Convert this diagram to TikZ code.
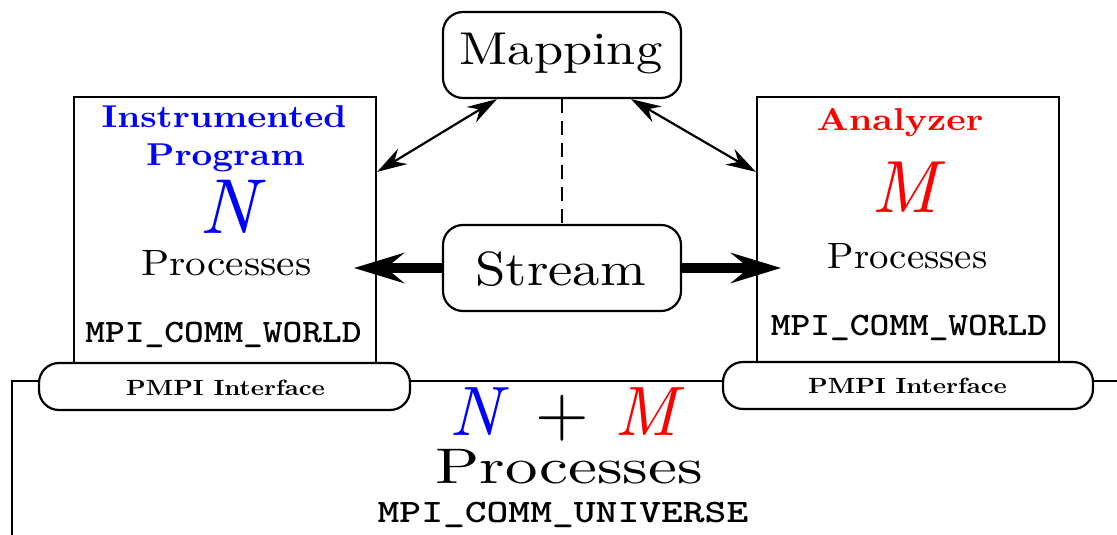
\documentclass[tikz,border=0pt]{standalone}
\usepackage{graphicx}
\usetikzlibrary{arrows.meta}
\DeclareFontFamily{TU}{lmten}{}
\DeclareFontShape{TU}{lmten}{m}{n}{<-> "[lmroman10-regular]:+tlig;"}{}
\DeclareFontShape{TU}{lmten}{bx}{n}{<-> "[lmroman10-bold]:+tlig;"}{}
\DeclareFontShape{TU}{lmten}{m}{it}{<-> "[lmroman10-italic]:+tlig;"}{}
\newcommand{\lmt}{\fontfamily{lmten}\selectfont}
\newcommand{\hs}[2]{\scalebox{#1}[1]{#2}}
\newcommand{\fsz}[1]{\fontsize{#1}{#1}\selectfont}
\tikzset{
  box/.style={draw, line width=2.2pt, inner sep=0pt, fill=white},
  roundbox/.style={draw, line width=2.2pt, rounded corners=20pt, inner sep=0pt, fill=white},
  txt/.style={inner sep=0pt, anchor=base},
  thinarrow/.style={line width=2.2pt, {Stealth[length=30pt,width=18pt,inset=10pt]}-{Stealth[length=30pt,width=18pt,inset=10pt]}},
  thickarrow/.style={line width=10pt, -{Stealth[length=50pt,width=30pt,inset=18pt]}},
  titlefont/.style={font=\lmt\fsz{31.6}\bfseries},
  procfont/.style={font=\lmt\fsz{36.6}},
  ttfont/.style={font=\fsz{32.7}\ttfamily\bfseries},
  pmpifont/.style={font=\lmt\fsz{22}\bfseries},
}
\begin{document}
\begin{tikzpicture}[x=1pt,y=-1pt]
\useasboundingbox (0,0) rectangle (1117,535);
% outer frame (MPI_COMM_UNIVERSE)
\coordinate (fr) at (1117,381);
\coordinate (fl) at (12,535);
\draw[line width=2.2pt] (fr) -| (fl);
% boxes
\node[box, minimum width=302pt, minimum height=266pt] (lbox) at (225,230) {};
\node[box, minimum width=302pt, minimum height=265pt] (rbox) at (908,229.5) {};
\node[roundbox, minimum width=371pt, minimum height=47pt] (lpmpi) at (224.5,386.5) {};
\node[roundbox, minimum width=370pt, minimum height=47pt] (rpmpi) at (908,385.5) {};
\node[roundbox, minimum width=238pt, minimum height=86pt] (map) at (562,55) {};
\node[roundbox, minimum width=238pt, minimum height=86pt] (str) at (562,268) {};
% connectors
\draw[line width=1.6pt, dash pattern=on 14pt off 8pt] (map.south) -- (str.north);
\draw[thinarrow] ([yshift=-76pt]lbox.north east) -- ([xshift=-65pt]map.south);
\draw[thinarrow] ([xshift=69pt]map.south) -- ([yshift=-76pt]rbox.north west);
\draw[thickarrow] (str.west) -- ([xshift=-88pt]str.west);
\draw[thickarrow] (str.east) -- ([xshift=99pt]str.east);
% box texts
\node[txt, font=\lmt\fsz{46}] (maptxt) at (561,65) {\hs{1.14}{Mapping}};
\node[txt, font=\lmt\fsz{48}] (strtxt) at (560.5,285) {\hs{1.14}{Stream}};
\node[txt, text=blue, titlefont] (t1) at (224,127) {\hs{1.14}{Instrumented}};
\node[txt, text=blue, titlefont] (t2) at (225.5,165) {\hs{1.14}{Program}};
\node[txt, text=blue, font=\lmt\fsz{78}\itshape] (nN) at (228,233) {N};
\node[txt, procfont] (p1) at (226.5,275) {\hs{1.13}{Processes}};
\node[txt, ttfont] (w1) at (223.5,342) {\hs{1.15}{MPI\_COMM\_WORLD}};
\node[txt, text=red, titlefont] (a1) at (900,130) {\hs{1.17}{Analyzer}};
\node[txt, text=red, font=\lmt\fsz{74}\itshape] (mM) at (905,212) {M};
\node[txt, procfont] (p2) at (907.5,268) {\hs{1.06}{Processes}};
\node[txt, ttfont] (w2) at (909,335) {\hs{1.15}{MPI\_COMM\_WORLD}};
\node[txt, pmpifont] (pm1) at (225.5,395) {\hs{1.14}{PMPI Interface}};
\node[txt, pmpifont] (pm2) at (907.5,393) {\hs{1.14}{PMPI Interface}};
% universe texts
\node[txt, text=blue, font=\lmt\fsz{70}\itshape] (nb) at (476,435) {N};
\node[txt, font=\lmt\fsz{69}] (plus) at (562.5,435) {+};
\node[txt, text=red, font=\lmt\fsz{70}\itshape] (mb) at (646,435) {M};
\node[txt, font=\lmt\fsz{50}] (p3) at (569,483) {\hs{1.3}{Processes}};
\node[txt, ttfont] (w3) at (563,522) {\hs{1.27}{MPI\_COMM\_UNIVERSE}};
\end{tikzpicture}
\end{document}
